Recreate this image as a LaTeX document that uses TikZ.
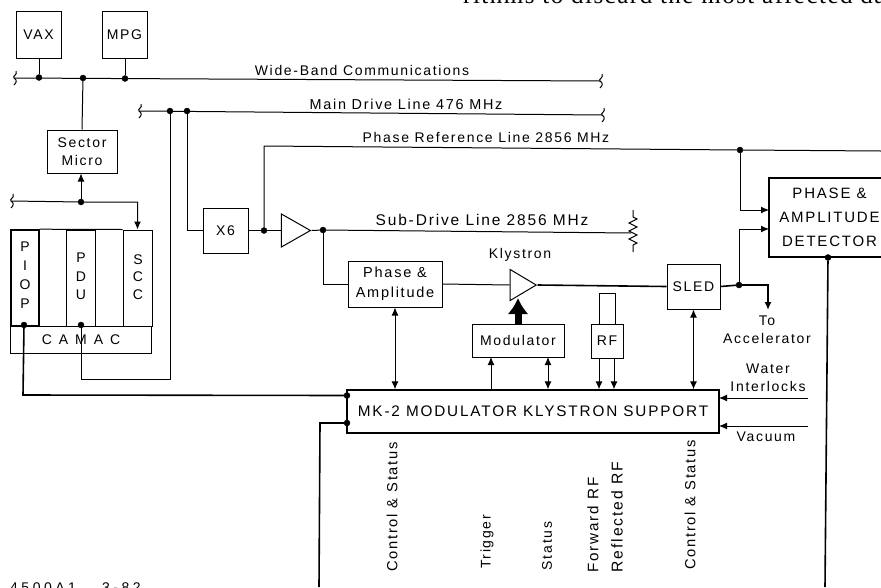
\documentclass[tikz,border=0pt]{standalone}
\usepackage{fontspec}
\setmainfont[LetterSpace=12]{Liberation Sans}
\newfontfamily\pagefont[LetterSpace=6]{Liberation Serif}
\usetikzlibrary{shapes,arrows.meta,decorations.pathmorphing}
\newcommand{\labsize}[2]{\fontsize{#1}{#2}\selectfont}
\tikzstyle{block} = [draw, rectangle, line width=1pt, inner sep=0pt, align=center, font=\labsize{14}{18}]
\tikzstyle{junction} = [draw, fill=black, circle, inner sep=0pt, minimum size=6pt]
\tikzstyle{amp} = [draw, line width=1pt, isosceles triangle, isosceles triangle stretches, inner sep=0pt, minimum height=29pt, minimum width=33pt]
\tikzstyle{lab} = [inner sep=0pt, align=center, font=\labsize{14}{18}]
\tikzstyle{sidelab} = [lab, rotate=90]
\tikzstyle{wire} = [line width=1pt]
\tikzstyle{bus} = [line width=1.6pt]
\newcommand{\wiggle}[1]{\draw[wire] ([shift={(2,-7)}]#1) .. controls ([shift={(4,-3)}]#1) and ([shift={(-2,-2)}]#1) .. (#1) .. controls ([shift={(3,2)}]#1) and ([shift={(3,4)}]#1) .. ([shift={(0,7)}]#1);}
\begin{document}
\begin{tikzpicture}[x=1pt, y=-1pt, >={Latex[length=8pt,width=7pt]}]
    \useasboundingbox (0,0) rectangle (881,587);
    \clip (0,0) rectangle (881,587);
    % Blocks
    \node [block, minimum width=45pt, minimum height=47pt] (vax) at (38.5,34.5) {VAX};
    \node [block, minimum width=45pt, minimum height=47pt] (mpg) at (124.5,34.5) {MPG};
    \node [block, minimum width=70pt, minimum height=43pt] (sector) at (82,151.5) {Sector\\Micro};
    \node [block, minimum width=45pt, minimum height=45pt] (xsix) at (225.5,230.5) {X6};
    \node [amp] (driver) at (291,230.5) {};
    \node [block, minimum width=94pt, minimum height=46pt, font=\labsize{14.5}{20}] (phase) at (395,284) {Phase \&\\Amplitude};
    \node [amp, minimum height=26pt, minimum width=31pt] (klystron) at (519,285) {};
    \node [block, minimum width=92pt, minimum height=33pt] (modulator) at (518,340.5) {Modulator};
    \node [block, minimum width=32pt, minimum height=34pt] (rf) at (607,341) {RF};
    \node [block, minimum width=53pt, minimum height=45pt] (sled) at (693.5,286.5) {SLED};
    \node [block, line width=1.4pt, minimum width=121pt, minimum height=79pt, font=\labsize{15}{24}] (detector) at (829.5,217.5) {PHASE \&\\AMPLITUDE\\DETECTOR};
    \node [block, line width=1.4pt, minimum width=372pt, minimum height=43pt, font=\labsize{15.3}{17}] (mk) at (533,411.5) {MK-2 MODULATOR KLYSTRON SUPPORT};
    % Crate
    \node [block, line width=1.6pt, minimum width=28pt, minimum height=96pt] (piop) at (25,278) {};
    \node [block, minimum width=29pt, minimum height=96pt] (pdu) at (81,278) {};
    \node [block, minimum width=29pt, minimum height=96pt] (scc) at (137.5,278) {};
    \node [block, minimum width=141pt, minimum height=27pt] (camac) at (81,339.5) {\addfontfeatures{LetterSpace=22}C A M A C};
    \node [lab] (piopa) at (25,247) {P};
    \node [lab] (piopb) at (25,266) {I};
    \node [lab] (piopc) at (25,285) {O};
    \node [lab] (piopd) at (25,304) {P};
    \node [lab] (pdua) at (81,258) {P};
    \node [lab] (pdub) at (81,277) {D};
    \node [lab] (pduc) at (81,295) {U};
    \node [lab] (scca) at (138,260) {S};
    \node [lab] (sccb) at (138,277) {C};
    \node [lab] (sccc) at (138,295) {C};
    % Junctions
    \node [junction] (wbvax) at (39,77.5) {};
    \node [junction] (wbsector) at (83,78) {};
    \node [junction] (wbmpg) at (125,78.5) {};
    \node [junction] (crate) at (81,202) {};
    \node [junction] (maina) at (170,111) {};
    \node [junction] (mainb) at (187,111) {};
    \node [junction] (xsixout) at (264,230.5) {};
    \node [junction] (driverout) at (323,230) {};
    \node [junction] (refdet) at (740,150) {};
    \node [junction] (sledout) at (739,285) {};
    \node [junction] (piopout) at (24,325) {};
    \node [junction] (pduout) at (81,325) {};
    \node [junction] (mka) at (347,395.5) {};
    \node [junction] (mkb) at (347,423) {};
    \node [junction] (detout) at (828,257.5) {};
    % Line ends
    \coordinate (wbleft) at (14,78);
    \coordinate (wbright) at (600,81);
    \coordinate (crateleft) at (11,201);
    \coordinate (mainleft) at (139,111);
    \coordinate (mainright) at (602,115);
    \coordinate (turn) at (168,379);
    \coordinate (reftop) at (264,146);
    \coordinate (refright) at (881,151);
    \coordinate (subend) at (631,233);
    \coordinate (restop) at (633,210);
    \coordinate (resbot) at (633,252);
    \coordinate (accel) at (768,310);
    \coordinate (busa) at (23,395);
    \coordinate (busb) at (320,423);
    \coordinate (busbend) at (319,587);
    \coordinate (detend) at (825,587);
    \coordinate (water) at (808,398);
    \coordinate (vacuum) at (808,426);
    \coordinate (waterin) at (719,398);
    \coordinate (vacuumin) at (719,426);
    \coordinate (detina) at (769,210);
    \coordinate (detinb) at (769,229);
    \coordinate (klyin) at (518,298);
    \coordinate (trigtop) at (491,357);
    \coordinate (statop) at (548,357);
    \coordinate (fwdtop) at (599,358);
    \coordinate (reftoprf) at (614,358);
    \coordinate (rfhoodl) at (599,293);
    \coordinate (rfhoodr) at (615,293);
    % Connections
    \draw [wire] (wbleft) -- (wbright);
    \draw [wire] (vax.south -| wbvax) -- (wbvax);
    \draw [wire] (mpg.south -| wbmpg) -- (wbmpg);
    \draw [wire] (wbsector) -- (sector.north);
    \draw [wire, ->] (crate) -- (crate |- sector.south);
    \draw [wire, ->] (crateleft) -- (crate) -| (scc.north);
    \draw [wire] (piop.north east) -- (scc.north west);
    \draw [wire] (mainleft) -- (mainright);
    \draw [wire] (maina) -- (maina |- turn) -- (turn -| pduout) -- (pduout);
    \draw [wire] (mainb) |- (xsix.west);
    \draw [wire] (xsix.east) -- (xsixout) -- (driver.lower side);
    \draw [wire] (driver.apex) -- (driverout);
    \draw [wire] (xsixout) -- (reftop) -- (refdet) -- (refright);
    \draw [wire] (driverout) -- (subend);
    \draw [wire, decorate, decoration={zigzag, segment length=8pt, amplitude=4pt, pre length=7pt, post length=7pt}] (restop) -- (resbot);
    \draw [wire] (driverout) |- (phase.west);
    \draw [wire] (phase.east) -- (klystron.lower side);
    \draw [bus] (klystron.apex) -- (sled.west);
    \draw [bus] (sled.east) -- (sledout);
    \draw [bus, ->] (sledout) -| (accel);
    \draw [wire, ->] (refdet) |- (detina);
    \draw [wire, ->] (sledout) |- (detinb);
    \draw [line width=7pt, -{Latex[length=16pt,width=21pt]}] (modulator.north) -- (klyin);
    \draw [wire, <->] (phase.south) -- (phase.south |- mk.north);
    \draw [wire, ->] (trigtop |- mk.north) -- (trigtop);
    \draw [wire, <->] (statop) -- (statop |- mk.north);
    \draw [wire] (rfhoodl |- rf.north) -- (rfhoodl) -- (rfhoodr) -- (rfhoodr |- rf.north);
    \draw [wire, ->] (fwdtop) -- (fwdtop |- mk.north);
    \draw [wire, ->] (reftoprf) -- (reftoprf |- mk.north);
    \draw [wire, <->] (sled.south) -- (sled.south |- mk.north);
    \draw [wire, ->] (water) -- (waterin);
    \draw [wire, ->] (vacuum) -- (vacuumin);
    \draw [bus] (piopout) -- (busa) -- (mka);
    \draw [bus] (mkb) -- (busb) -- (busbend);
    \draw [bus] (detout) -- (detend);
    \wiggle{wbleft}
    \wiggle{crateleft}
    \wiggle{mainleft}
    \wiggle{wbright}
    \wiggle{mainright}
    % Labels
    \node [lab] (wblabel) at (362,70) {Wide-Band Communications};
    \node [lab, font=\labsize{14.4}{18}] (mainlabel) at (406,104) {Main Drive Line 476 MHz};
    \node [lab] (reflabel) at (486,137) {Phase Reference Line 2856 MHz};
    \node [lab, font=\labsize{15.5}{18}] (sublabel) at (482,220) {Sub-Drive Line 2856 MHz};
    \node [lab] (klylabel) at (520,255) {Klystron};
    \node [lab] (accellabel) at (767,329.5) {To\\Accelerator};
    \node [lab] (waterlabel) at (768,378) {Water\\Interlocks};
    \node [lab] (vaclabel) at (766,437) {Vacuum};
    \node [sidelab, font=\labsize{14.7}{18}] (csa) at (392,507) {Control \& Status};
    \node [sidelab] (trig) at (487,542) {Trigger};
    \node [sidelab] (stat) at (547,546) {Status};
    \node [sidelab, font=\labsize{15.2}{18}] (fwd) at (593,525) {Forward RF};
    \node [sidelab, font=\labsize{15.7}{18}] (rflc) at (617,517) {Reflected RF};
    \node [sidelab, font=\labsize{14.7}{18}] (csb) at (690,505) {Control \& Status};
    \node [lab, anchor=west] (fig) at (10,588) {\addfontfeatures{LetterSpace=25}4500A1};
    \node [lab, anchor=west] (date) at (102,588) {\addfontfeatures{LetterSpace=25}3-82};
    \node [anchor=base west, inner sep=0pt, font=\pagefont\labsize{25}{27}] (pageline) at (463,3.5) {rithms to discard the most affected da};
\end{tikzpicture}
\end{document}
